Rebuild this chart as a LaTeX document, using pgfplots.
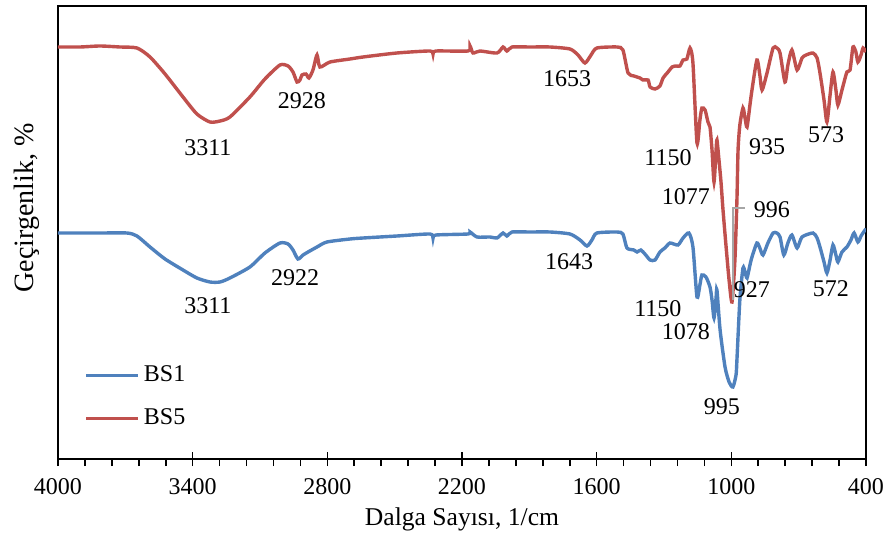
\documentclass[border=0pt]{standalone}
\usepackage{pgfplots}
\pgfplotsset{compat=1.18}
\usepackage{fontspec}
\setmainfont{Liberation Serif}

\definecolor{bsred}{HTML}{C0504D}
\definecolor{bsblue}{HTML}{4F81BD}

% y values are relative transmittance (arbitrary units)
\pgfplotstableread{
v T
4000 412
3902 412
3813 413
3724 412
3648 411
3590 402
3523 385
3443 362
3381 345
3323 337
3278 338
3234 342
3145 362
3078 380
3011 394
2975 393
2953 387
2935 377
2922 379
2913 384
2895 385
2882 381
2864 389
2846 404
2833 392
2788 397
2699 400
2641 402
2490 406
2343 408
2329 405
2316 408
2173 408
2164 413
2151 406
2120 408
2044 406
2017 412
2000 408
1977 412
1897 412
1808 412
1719 410
1683 404
1652 396
1625 404
1599 411
1509 412
1483 409
1460 386
1434 383
1407 381
1394 379
1371 379
1362 372
1340 370
1318 373
1304 381
1282 387
1264 392
1247 393
1229 393
1215 399
1198 400
1184 411
1171 396
1153 316
1140 339
1131 351
1117 349
1104 337
1095 332
1086 309
1077 277
1068 309
1064 319
1055 299
1046 277
1037 249
1024 214
1010 179
997 157
984 199
975 259
970 309
962 334
948 351
939 341
930 332
917 354
908 369
886 399
873 384
863 369
841 386
814 411
797 411
783 406
761 377
748 394
730 409
707 389
685 401
667 404
636 406
618 401
605 386
587 359
574 337
560 364
547 387
534 369
525 354
507 369
485 387
471 389
458 412
445 407
436 397
422 404
413 411
400 407
}\bsfive

\pgfplotstableread{
v T
4000 226
3813 226
3693 226
3648 223
3590 212
3523 200
3443 189
3381 181
3323 177
3278 177
3234 181
3145 192
3078 206
3011 216
2975 215
2953 209
2931 200
2908 204
2886 207
2846 212
2802 217
2699 220
2641 221
2490 223
2343 225
2329 221
2316 224
2173 225
2164 227
2133 222
2075 222
2044 221
2017 226
2000 223
1977 227
1897 227
1808 227
1719 225
1674 219
1643 213
1621 219
1599 226
1509 227
1483 225
1465 211
1434 209
1420 207
1403 209
1385 205
1362 199
1340 199
1318 207
1296 211
1273 216
1238 214
1215 221
1189 226
1171 212
1153 162
1140 174
1131 184
1113 182
1095 172
1086 159
1077 141
1068 161
1064 169
1050 129
1028 92
1010 77
993 72
979 84
975 99
962 159
948 191
939 187
930 181
917 194
908 202
886 216
873 211
859 204
837 216
814 226
797 226
783 222
766 204
748 216
730 224
707 211
685 222
636 226
618 221
605 212
587 197
574 186
560 199
547 214
534 204
525 197
507 207
485 212
467 219
453 226
436 217
422 223
404 229
400 228
}\bsone

\begin{document}
\fontsize{12}{14}\selectfont
\begin{tikzpicture}
\begin{axis}[
    width=404pt, height=226.5pt,
    scale only axis,
    x dir=reverse,
    xmin=400, xmax=4000,
    ymin=0, ymax=453,
    xtick={400,1000,...,4000},
    minor x tick num=4,
    ytick=\empty,
    axis line style={line width=1pt},
    tick align=center,
    major tick length=7pt,
    minor tick length=3.5pt,
    every tick/.style={black, line width=0.8pt},
    every minor tick/.append style={yshift=-1.75pt},
    xtick pos=bottom,
    /pgf/number format/assume math mode=true,
    /pgf/number format/1000 sep={},
    xticklabel style={yshift=-2pt},
    xlabel={Dalga Sayısı, 1/cm},
    ylabel={Geçirgenlik, \%},
    xlabel style={at={(rel axis cs:0.5,0)}, anchor=center, yshift=-30pt,
        font=\fontsize{12.8}{15}\selectfont},
    ylabel style={at={(rel axis cs:-0.0384,0.554)}, anchor=center,
        font=\fontsize{14}{16}\selectfont},
    legend style={draw=none, fill=none, at={(0.025,0.225)}, anchor=north west,
        row sep=8pt, font=\fontsize{12}{14}\selectfont},
    legend cell align=left,
    legend image code/.code={\draw[#1] (0pt,0pt) -- (26pt,0pt);},
]
\addplot[bsblue, line width=1.7pt, smooth, tension=0.4] table[x=v, y=T] {\bsone};
\addlegendentry{BS1}
\addplot[bsred, line width=1.7pt, smooth, tension=0.4] table[x=v, y=T] {\bsfive};
\addlegendentry{BS5}

\draw[gray!70, line width=1pt] (axis cs:993,159) -- (axis cs:993,251) -- (axis cs:939,251);

\node at (axis cs:3332,311) {3311};
\node at (axis cs:2913,358) {2928};
\node at (axis cs:1732,380) {1653};
\node at (axis cs:1282,301) {1150};
\node at (axis cs:1202,262) {1077};
\node at (axis cs:841,312) {935};
\node at (axis cs:578,324) {573};
\node at (axis cs:819,249) {996};

\node at (axis cs:3332,153) {3311};
\node at (axis cs:2944,181) {2922};
\node at (axis cs:1723,197) {1643};
\node at (axis cs:1327,150) {1150};
\node at (axis cs:1202,127) {1078};
\node at (axis cs:908,169) {927};
\node at (axis cs:556,170) {572};
\node at (axis cs:1042,52) {995};

\coordinate (bl) at (rel axis cs:0,0);
\coordinate (tr) at (rel axis cs:1,1);
\end{axis}
\pgfresetboundingbox
\path ([xshift=-29pt,yshift=-41pt]bl) rectangle ([xshift=11pt,yshift=3pt]tr);
\end{tikzpicture}
\end{document}
